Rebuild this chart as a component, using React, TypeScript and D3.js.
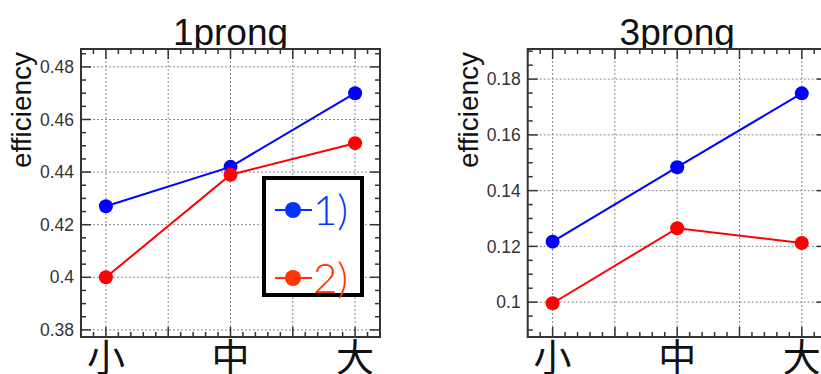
import React from 'react'
import * as d3 from 'd3'

const categories = ['小', '中', '大']
const oneProngBlue = [0.427, 0.442, 0.470]
const oneProngRed = [0.400, 0.439, 0.451]
const threeProngBlue = [0.1217, 0.1484, 0.1749]
const threeProngRed = [0.0996, 0.1265, 0.1212]
const oneProngTicks = [0.38, 0.4, 0.42, 0.44, 0.46, 0.48]
const threeProngTicks = [0.1, 0.12, 0.14, 0.16, 0.18]
const legendLabels = ['1)', '2)']

const BLUE = '#0000ff'
const RED = '#ff0000'
const FONT = '"Liberation Sans", Arial, Helvetica, sans-serif'

type PanelProps = {
  title: string
  left: number
  yDomain: [number, number]
  ticks: number[]
  blue: number[]
  red: number[]
  legend?: boolean
}

const top = 49
const bottom = 337
const width = 299

const Panel = ({ title, left, yDomain, ticks, blue, red, legend }: PanelProps) => {
  // category index as continuous x so the half-step grid lines fit
  const x = d3.scaleLinear().domain([-0.2, 2.2]).range([left, left + width])
  const y = d3.scaleLinear().domain(yDomain).range([bottom, top])
  const line = d3.line<number>().x((d, i) => x(i)).y(d => y(d))

  const xMajor = d3.range(0, 2.01, 0.5)
  const xMinor = d3.range(-0.2, 2.21, 0.1)
  const yMinor = d3.range(Math.ceil(yDomain[0] / 0.005) * 0.005, yDomain[1], 0.005)

  const right = left + width
  return (
    <g>
      <text x={x(1)} y={45} textAnchor="middle" fontSize={37} fontFamily={FONT} fill="#111">{title}</text>
      <text transform={`translate(${left - 50},${110}) rotate(-90)`} textAnchor="middle"
        fontSize={28} fontFamily={FONT} fill="#111">efficiency</text>
      <rect x={left} y={top} width={width} height={bottom - top} fill="#fff" />
      {/* grid */}
      {ticks.map(t => (
        <line key={'gy' + t} x1={left} x2={right} y1={y(t)} y2={y(t)} stroke="#888" strokeDasharray="2,2" />
      ))}
      {xMajor.map(t => (
        <line key={'gx' + t} x1={x(t)} x2={x(t)} y1={top} y2={bottom} stroke="#888" strokeDasharray="2,2" />
      ))}
      {/* ticks */}
      {yMinor.map(t => {
        const major = ticks.some(m => Math.abs(m - t) < 1e-6)
        const len = major ? 10 : 5
        return (
          <g key={'ty' + t} stroke="#333" strokeWidth={1.5}>
            <line x1={left} x2={left + len} y1={y(t)} y2={y(t)} />
            <line x1={right} x2={right - len} y1={y(t)} y2={y(t)} />
          </g>
        )
      })}
      {xMinor.map(t => {
        const major = Math.abs(t * 2 - Math.round(t * 2)) < 1e-6
        const len = major ? 10 : 5
        return (
          <g key={'tx' + t} stroke="#333" strokeWidth={1.5}>
            <line x1={x(t)} x2={x(t)} y1={bottom} y2={bottom - len} />
            <line x1={x(t)} x2={x(t)} y1={top} y2={top + len} />
          </g>
        )
      })}
      <rect x={left} y={top} width={width} height={bottom - top} fill="none" stroke="#333" strokeWidth={2} />
      {ticks.map(t => (
        <text key={'ly' + t} x={left - 7} y={y(t)} dy="0.35em" textAnchor="end" fontSize={17.5}
          fontFamily={FONT} fill="#333">{String(t)}</text>
      ))}
      {categories.map((c, i) => (
        <text key={c} x={x(i)} y={371} textAnchor="middle" fontSize={38}
          fontFamily='"Noto Sans CJK JP", sans-serif' fill="#111">{c}</text>
      ))}
      {/* data */}
      {[{ vals: blue, color: BLUE }, { vals: red, color: RED }].map((s, k) => (
        <g key={k}>
          <path d={line(s.vals) || ''} fill="none" stroke={s.color} strokeWidth={2} />
          {s.vals.map((v, i) => (
            <circle key={i} cx={x(i)} cy={y(v)} r={7} fill={s.color} />
          ))}
        </g>
      ))}
      {legend && (
        <g>
          <rect x={264} y={178} width={98} height={117} fill="#fff" stroke="#000" strokeWidth={4} />
          {legendLabels.map((l, i) => {
            const color = i === 0 ? '#0033ff' : '#ff3300'
            const ly = 210 + i * 68
            return (
              <g key={l}>
                <line x1={275} x2={312} y1={ly} y2={ly} stroke={color} strokeWidth={2} />
                <circle cx={293} cy={ly} r={8} fill={color} />
                <text x={313} y={ly} dy="0.36em" fontSize={42} fontWeight={300}
                  fontFamily='Lato, "Liberation Sans", sans-serif' fill={color}>{l}</text>
              </g>
            )
          })}
        </g>
      )}
    </g>
  )
}

export default function App() {
  return (
    <svg width={821} height={374} style={{ position: 'absolute', left: 0, top: 0, background: '#fff' }}>
      <rect width={821} height={374} fill="#fff" />
      <Panel title="1prong" left={81} yDomain={[0.3773, 0.4868]} ticks={oneProngTicks}
        blue={oneProngBlue} red={oneProngRed} legend />
      <Panel title="3prong" left={527.7} yDomain={[0.0875, 0.1908]} ticks={threeProngTicks}
        blue={threeProngBlue} red={threeProngRed} />
    </svg>
  )
}
